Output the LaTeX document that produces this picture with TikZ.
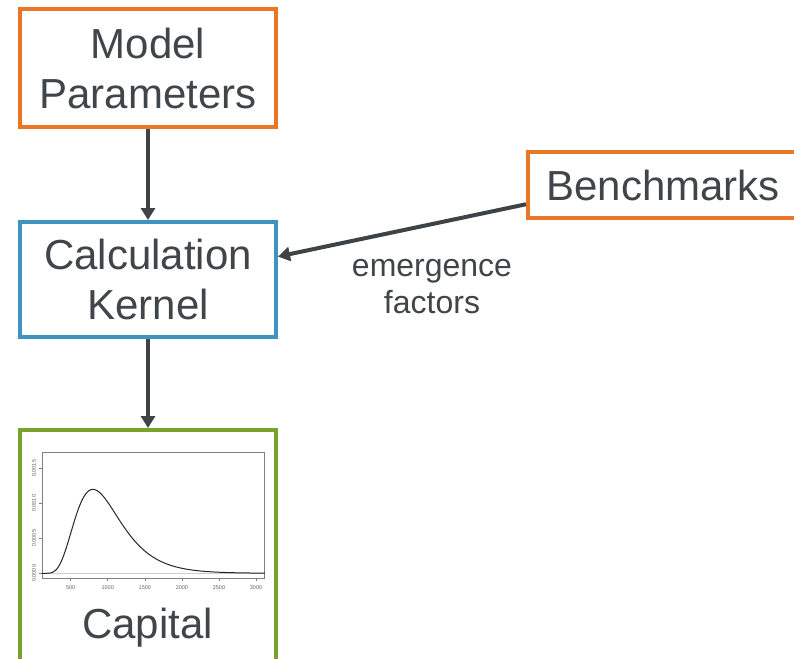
\documentclass[tikz,border=0pt]{standalone}
\usepackage{fontspec}
\setmainfont{Liberation Sans}
\usetikzlibrary{arrows.meta}
\definecolor{orangeC}{HTML}{EA7725}
\definecolor{blueC}{HTML}{3F94BF}
\definecolor{greenC}{HTML}{78A32B}
\definecolor{txt}{HTML}{404549}
\definecolor{arrC}{HTML}{3E4347}
\definecolor{axisC}{HTML}{808080}
\tikzset{
  box/.style={draw, line width=4pt, rectangle, inner sep=0pt, fill=white,
    text=txt, align=center, font=\fontsize{42}{50}\selectfont},
  arr/.style={draw=arrC, line width=4pt, -{Triangle[width=14pt,length=12pt]}},
  lbl/.style={text=txt, align=center, font=\fontsize{32}{37}\selectfont},
  tick/.style={draw=axisC, line width=0.5pt},
  ticklbl/.style={text=black!60, font=\fontsize{5.5}{6}\selectfont, inner sep=0pt}
}
\begin{document}
\begin{tikzpicture}[x=1pt,y=-1pt]
\useasboundingbox (0,0) rectangle (794,658);
\fill[white] (0,0) rectangle (794,658);

\node[box, draw=orangeC, minimum width=256pt, minimum height=118pt] (mp) at (148,68) {Model\\Parameters};
\node[box, draw=blueC, minimum width=256pt, minimum height=115pt] (ck) at (148,279.5) {Calculation\\Kernel};
\node[box, draw=orangeC, minimum width=270pt, minimum height=66pt] (bm) at (663,185) {Benchmarks};
\node[box, draw=greenC, minimum width=256pt, minimum height=240pt] (cap) at (148,550) {};

% plot inside Capital
\draw[draw=axisC!40, line width=0.8pt] (42,573.8) -- (264.5,573.8);
\draw[draw=axisC, line width=0.6pt] (42,452) rectangle (264.5,578);
\foreach \u/\t in {0.5/500,1/1000,1.5/1500,2/2000,2.5/2500,3/3000}{
  \draw[tick] ({33.6+74.14*\u},578) -- ({33.6+74.14*\u},581);
  \node[ticklbl] at ({33.6+74.14*\u},587.5) {\t};
}
\foreach \y/\t in {573.3/0.0000,538.3/0.0005,503.3/0.0010,468.3/0.0015}{
  \draw[tick] (42,\y) -- (39,\y);
  \node[ticklbl, rotate=90] at (34,\y) {\t};
}
\draw[line width=1pt, black!85] plot[domain=0.113:3.123, samples=220, variable=\u, smooth]
  ({33.6+74.14*\u}, {573.3-72.344/\u*exp(-((ln(\u)+0.0738)*(ln(\u)+0.0738))/0.298)});

\node[text=txt, font=\fontsize{42}{50}\selectfont, anchor=base, inner sep=0pt] (capl) at (147.5,638) {Capital};

% connectors
\draw[arr] (mp.south) -- (ck.north);
\draw[arr] (ck.south) -- (cap.north);
\draw[arr] (bm.188.4) -- (ck.10.7);

\node[lbl] (ef) at (432,286.5) {emergence\\factors};
\end{tikzpicture}
\end{document}
